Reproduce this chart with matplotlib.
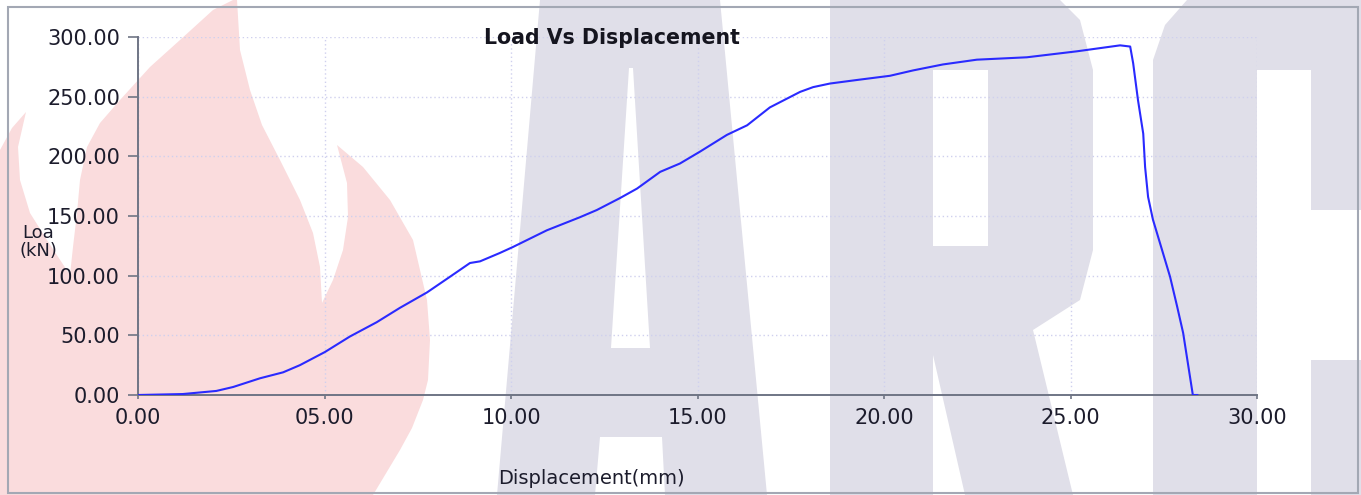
import matplotlib
matplotlib.use("Agg")
import matplotlib.pyplot as plt
from matplotlib.patches import Polygon, Rectangle

# load vs displacement readings (mm, kN)
disp = [0.0, 1.2, 2.1, 2.55, 3.27, 3.89, 4.34, 5.01, 5.68, 6.4, 7.02, 7.75, 8.36,
        8.9, 9.17, 9.7, 10.05, 10.96, 11.85, 12.3, 12.92, 13.38, 14.0, 14.53, 15.07,
        15.79, 16.33, 16.94, 17.75, 18.1, 18.55, 19.28, 20.16, 20.78, 21.42, 21.58,
        22.49, 23.83, 25.17, 26.33, 26.6, 26.68, 26.81, 26.95, 27.0, 27.08, 27.21,
        27.45, 27.67, 27.86, 28.02, 28.12, 28.23, 28.28, 28.4]
load = [0.0, 0.8, 3.4, 6.7, 14, 19, 25, 36, 49, 61, 73, 86, 99,
        110.6, 112, 119, 124, 138, 149, 155, 165, 173, 187, 194, 204,
        218, 226, 241, 254, 258, 261, 264, 267.5, 272, 276, 277,
        281, 283, 288, 293, 292, 278, 247, 219, 191, 166, 147,
        122, 99, 74, 52, 32, 10, 0, 0]

x_ticks = [0, 5, 10, 15, 20, 25, 30]
x_labels = ["0.00", "05.00", "10.00", "15.00", "20.00", "25.00", "30.00"]
y_ticks = [0, 50, 100, 150, 200, 250, 300]
y_labels = ["0.00", "50.00", "100.00", "150.00", "200.00", "250.00", "300.00"]

plt.rcParams["font.family"] = ["DejaVu Sans"]

fig = plt.figure(figsize=(13.61, 4.95), dpi=100)

# background watermark, drawn in pixel space
bg = fig.add_axes([0, 0, 1, 1], zorder=-1)
bg.set_xlim(0, 1361)
bg.set_ylim(495, 0)
bg.axis("off")

pink = "#fadcdd"
grey = "#e0dfe9"

flame = [(0, 495), (0, 150), (12, 128), (26, 112), (18, 147), (20, 180), (30, 213),
         (47, 240), (70, 275), (73, 247), (77, 213), (80, 180), (87, 147), (100, 123),
         (120, 100), (150, 67), (180, 40), (213, 10), (233, 0), (237, 0), (240, 50),
         (250, 90), (262, 125), (280, 160), (300, 200), (313, 233), (320, 267),
         (322, 303), (333, 280), (343, 250), (348, 217), (347, 183), (337, 145),
         (363, 167), (390, 200), (413, 240), (427, 300), (430, 340), (428, 380),
         (423, 400), (412, 428), (400, 450), (385, 475), (373, 495)]
bg.add_patch(Polygon(flame, closed=True, fc=pink, ec="none"))

# A
bg.add_patch(Polygon([(540, 0), (720, 0), (767, 495), (497, 495)], fc=grey, ec="none"))
bg.add_patch(Polygon([(629, 68), (633, 68), (650, 348), (611, 348)], fc="white", ec="none"))
bg.add_patch(Polygon([(600, 437), (662, 437), (665, 495), (595, 495)], fc="white", ec="none"))
# R
bg.add_patch(Polygon([(830, 0), (1060, 0), (1080, 20), (1093, 70), (1093, 250),
                      (1080, 300), (1033, 330), (1073, 495), (830, 495)], fc=grey, ec="none"))
bg.add_patch(Rectangle((933, 70), 55, 176, fc="white", ec="none"))
bg.add_patch(Polygon([(933, 355), (965, 495), (933, 495)], fc="white", ec="none"))
# C
bg.add_patch(Polygon([(1153, 495), (1153, 60), (1165, 25), (1187, 0), (1361, 0),
                      (1361, 210), (1311, 210), (1311, 70), (1257, 70), (1257, 495)],
                     fc=grey, ec="none"))
bg.add_patch(Rectangle((1311, 360), 50, 135, fc=grey, ec="none"))

bg.add_patch(Rectangle((8, 7), 1350, 486, fill=False, ec="#a3a8b4", lw=1.5))

ax = fig.add_axes([138 / 1361, 100 / 495, 1119 / 1361, 358 / 495])
ax.set_facecolor("none")

ax.plot(disp, load, color="#2a2aff", lw=1.5, zorder=3)

ax.set_xlim(0, 30)
ax.set_ylim(0, 300)
ax.set_xticks(x_ticks)
ax.set_xticklabels(x_labels)
ax.set_yticks(y_ticks)
ax.set_yticklabels(y_labels)

ax.grid(True, linestyle=(0, (1, 2)), color="#cfd0ee", lw=1)
for s in ["top", "right"]:
    ax.spines[s].set_visible(False)
for s in ["left", "bottom"]:
    ax.spines[s].set_color("#6f7585")
    ax.spines[s].set_linewidth(1.4)

ax.tick_params(axis="y", length=7, width=1.2, color="#6f7585", pad=6,
               labelsize=15, labelcolor="#1c1c2c")
ax.tick_params(axis="x", length=3, width=1.2, color="#6f7585", pad=6,
               labelsize=15, labelcolor="#1c1c2c")

ax.text(0.4236, 0.997, "Load Vs Displacement", transform=ax.transAxes,
        ha="center", va="center", fontsize=14.8, fontweight="bold", color="#15151f")

ax.set_xlabel("Displacement(mm)", fontsize=14, color="#1c1c2c")
ax.xaxis.set_label_coords(0.405, -0.207)
ax.set_ylabel("Loa\n(kN)", fontsize=13, color="#1c1c2c", rotation=0,
              ha="center", va="center", linespacing=0.95)
ax.yaxis.set_label_coords(-0.089, 0.427)

fig.savefig("out.png", dpi=100)
